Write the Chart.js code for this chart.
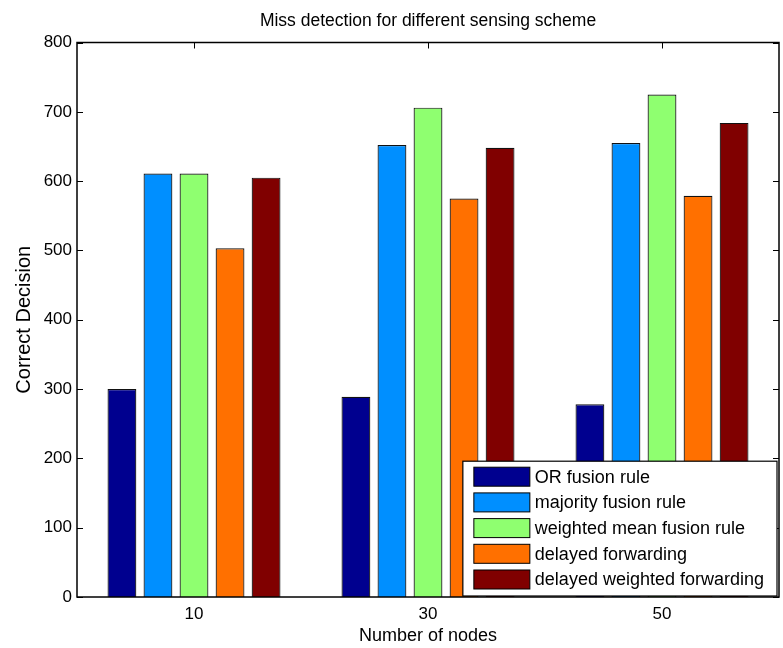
<!DOCTYPE html>
<html>
<head>
<meta charset="UTF-8">
<title>Miss detection</title>
<script src="https://cdn.jsdelivr.net/npm/chart.js@4/dist/chart.umd.min.js"></script>
<style>
  body { margin: 0; background: #fff; }
  #wrap { width: 783px; height: 648px; }
</style>
</head>
<body>
<div id="wrap"><canvas id="chart" width="783" height="648"></canvas></div>
<script>
  // data
  var nodes = ['10', '30', '50'];
  var seriesNames = ['OR fusion rule', 'majority fusion rule', 'weighted mean fusion rule',
                     'delayed forwarding', 'delayed weighted forwarding'];
  var orFusion = [300, 289, 278];
  var majorityFusion = [611, 652, 655];
  var weightedMean = [611, 706, 725];
  var delayedFwd = [503, 575, 579];
  var delayedWeightedFwd = [605, 648, 684];
  var yTicks = [0, 100, 200, 300, 400, 500, 600, 700, 800];

  var colors = ['#00008f', '#008fff', '#8fff70', '#ff7000', '#800000'];
  var values = [orFusion, majorityFusion, weightedMean, delayedFwd, delayedWeightedFwd];
  var FONT = '"Liberation Sans", Arial, Helvetica, sans-serif';

  var datasets = values.map(function (v, i) {
    return {
      label: seriesNames[i],
      data: v,
      backgroundColor: colors[i],
      borderColor: '#111',
      borderWidth: 1.2,
      categoryPercentage: 0.77,
      barPercentage: 0.8
    };
  });

  // inward tick marks on all four sides (drawn under the bars)
  var tickMarks = {
    id: 'tickMarks',
    beforeDatasetsDraw: function (chart) {
      var c = chart.ctx, a = chart.chartArea;
      var x = chart.scales.x, y = chart.scales.y;
      c.save();
      c.strokeStyle = '#000';
      c.lineWidth = 1;
      c.beginPath();
      yTicks.forEach(function (t) {
        var py = Math.round(y.getPixelForValue(t)) + 0.5;
        c.moveTo(a.left, py); c.lineTo(a.left + 6, py);
        c.moveTo(a.right, py); c.lineTo(a.right - 6, py);
      });
      nodes.forEach(function (n, i) {
        var px = Math.round(x.getPixelForValue(i)) + 0.5;
        c.moveTo(px, a.top); c.lineTo(px, a.top + 6);
        c.moveTo(px, a.bottom); c.lineTo(px, a.bottom - 6);
      });
      c.stroke();
      c.restore();
    },
    afterDatasetsDraw: function (chart) {
      var c = chart.ctx, a = chart.chartArea;
      c.save();
      c.strokeStyle = '#000';
      c.lineWidth = 1.5;
      c.strokeRect(a.left, a.top, a.right - a.left, a.bottom - a.top);
      c.restore();
    }
  };

  // legend box inside the plot, bottom right
  var boxLegend = {
    id: 'boxLegend',
    afterDraw: function (chart) {
      var c = chart.ctx, a = chart.chartArea;
      c.save();
      c.font = '18px ' + FONT;
      var tw = 0;
      seriesNames.forEach(function (s) { tw = Math.max(tw, c.measureText(s).width); });
      var sw = 56, sh = 19, row = 25.7;
      var w = 11 + sw + 5 + tw + 13;
      var h = 6 + 4 * row + sh + 7;
      var x0 = a.right - 2 - w, y0 = a.bottom - 1 - h;
      c.fillStyle = '#fff';
      c.fillRect(x0, y0, w, h);
      c.strokeStyle = '#000';
      c.lineWidth = 1.2;
      c.strokeRect(x0, y0, w, h);
      c.textBaseline = 'middle';
      c.textAlign = 'left';
      seriesNames.forEach(function (s, i) {
        var ry = y0 + 6 + i * row;
        c.fillStyle = colors[i];
        c.fillRect(x0 + 11, ry, sw, sh);
        c.lineWidth = 1;
        c.strokeRect(x0 + 11, ry, sw, sh);
        c.fillStyle = '#000';
        c.fillText(s, x0 + 11 + sw + 5, ry + sh / 2 + 1);
      });
      c.restore();
    }
  };

  new Chart(document.getElementById('chart'), {
    type: 'bar',
    data: { labels: nodes, datasets: datasets },
    options: {
      responsive: false,
      animation: false,
      layout: { padding: { left: 0, right: 4, top: 0, bottom: 0 } },
      plugins: {
        legend: { display: false },
        tooltip: { enabled: false },
        title: {
          display: true,
          fullSize: false,
          text: 'Miss detection for different sensing scheme',
          color: '#000',
          font: { family: FONT, size: 17.5, weight: 'normal' },
          padding: { top: 11, bottom: 10.5 }
        }
      },
      scales: {
        x: {
          type: 'category',
          offset: true,
          grid: { display: false, drawTicks: false },
          border: { display: false },
          ticks: { color: '#000', padding: 7, font: { family: FONT, size: 17 } },
          title: {
            display: true,
            text: 'Number of nodes',
            color: '#000',
            font: { family: FONT, size: 18 },
            padding: { top: 0, bottom: 1 }
          },
          afterFit: function (s) { s.height = 51; }
        },
        y: {
          min: 0,
          max: 800,
          grid: { display: false, drawTicks: false },
          border: { display: false },
          ticks: { stepSize: 100, color: '#000', padding: 5, font: { family: FONT, size: 17 } },
          title: {
            display: true,
            text: 'Correct Decision',
            color: '#000',
            font: { family: FONT, size: 20 },
            padding: { top: 12, bottom: 0 }
          },
          afterFit: function (s) { s.width = 77; }
        }
      }
    },
    plugins: [tickMarks, boxLegend]
  });
</script>
</body>
</html>
